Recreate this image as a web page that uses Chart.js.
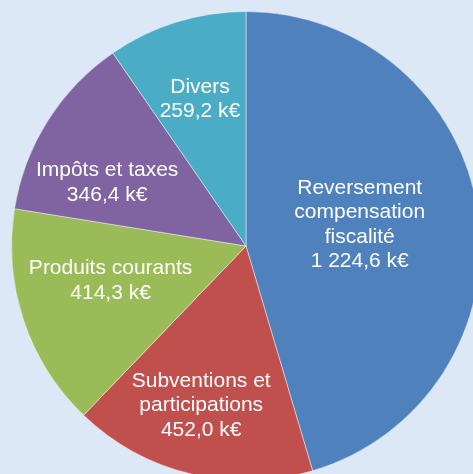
<!DOCTYPE html>
<html>
<head>
<meta charset="utf-8">
<script src="https://cdn.jsdelivr.net/npm/chart.js@4"></script>
<style>
  html, body { margin: 0; padding: 0; background: #dce8f5; overflow: hidden; }
  body { width: 473px; height: 474px; }
  canvas { display: block; }
</style>
</head>
<body>
<canvas id="pie" width="492" height="492"></canvas>
<script>
// 数据
const categories = [
  ['Reversement', 'compensation', 'fiscalité'],
  ['Subventions et', 'participations'],
  ['Produits courants'],
  ['Impôts et taxes'],
  ['Divers']
];
const values = [1224.6, 452.0, 414.3, 346.4, 259.2];
const colors = ['#4f81bd', '#c0504d', '#9bbb59', '#8064a2', '#4bacc6'];

// 1 224,6 k€
function formatKEuro(v) {
  const parts = v.toFixed(1).split('.');
  const int = parts[0].replace(/\B(?=(\d{3})+(?!\d))/g, ' ');
  return int + ',' + parts[1] + ' k€';
}

// 扇区内标签：沿中线按比例放置，再做少量微调
const SliceLabelsPlugin = {
  id: 'sliceLabels',
  afterDatasetsDraw(chart, args, opts) {
    const { ctx } = chart;
    const meta = chart.getDatasetMeta(0);
    ctx.save();
    ctx.fillStyle = '#ffffff';
    ctx.font = '21px "Liberation Sans", Arial, sans-serif';
    ctx.textAlign = 'center';
    ctx.textBaseline = 'middle';
    meta.data.forEach((arc, i) => {
      const mid = (arc.startAngle + arc.endAngle) / 2;
      const r = arc.outerRadius * opts.factors[i];
      const x = arc.x + Math.cos(mid) * r + (opts.shiftX[i] || 0);
      const y = arc.y + Math.sin(mid) * r + (opts.shiftY[i] || 0);
      const lines = categories[i].concat([formatKEuro(values[i])]);
      const lh = 24.4;
      const top = y - (lines.length - 1) * lh / 2;
      lines.forEach((t, k) => ctx.fillText(t, x, top + k * lh));
    });
    ctx.restore();
  }
};
Chart.register(SliceLabelsPlugin);

new Chart(document.getElementById('pie'), {
  type: 'pie',
  data: {
    labels: categories.map(c => c.join(' ')),
    datasets: [{
      data: values,
      backgroundColor: colors,
      borderColor: 'rgba(255,255,255,0.45)',
      borderWidth: 1
    }]
  },
  options: {
    responsive: false,
    animation: false,
    layout: { padding: 11 },
    plugins: {
      legend: { display: false },
      tooltip: { enabled: false },
      sliceLabels: {
        factors: [0.49, 0.70, 0.60, 0.65, 0.66],
        shiftX: [0, -6, -2, -10, 0],
        shiftY: [-5, 0, -10, 18, 1]
      }
    }
  }
});
</script>
</body>
</html>
